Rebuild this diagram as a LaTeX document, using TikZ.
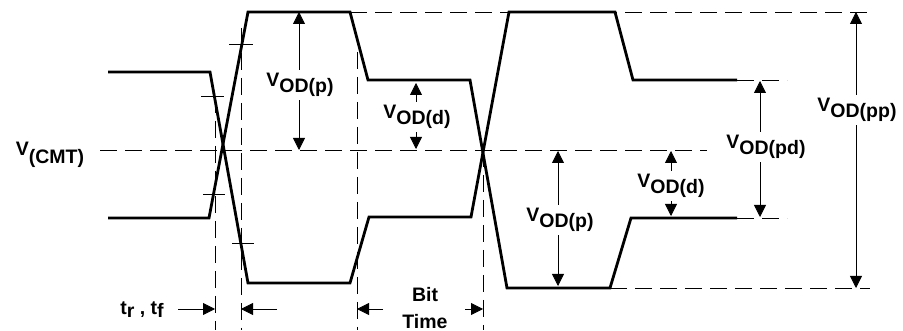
\documentclass[tikz,border=0pt]{standalone}
\usepackage{fontspec}
\setmainfont{Liberation Sans}
\usetikzlibrary{arrows.meta}
\newcommand\VS[1]{V\raisebox{-6.5pt}{#1}}
\begin{document}
\begin{tikzpicture}[x=1pt,y=-1pt,
  sig/.style={line width=2.8pt, line join=miter},
  dsh/.style={line width=0.8pt, dash pattern=on 17pt off 8pt},
  tick/.style={line width=0.8pt},
  dim/.style={line width=0.8pt, -{Triangle[length=12pt,width=12pt]}},
  lbl/.style={font=\fontsize{19.5}{27}\selectfont\bfseries, inner sep=3pt}]
\useasboundingbox (0,0) rectangle (903,331);

% reference levels (dashed)
\coordinate (top0) at (350,12);  \coordinate (top1) at (872,12);
\coordinate (mid0) at (100,150); \coordinate (mid1) at (707,150);
\coordinate (bot0) at (610,288); \coordinate (bot1) at (870,288);
\coordinate (hi0) at (737,80);   \coordinate (hi1) at (787,80);
\coordinate (lo0) at (737,218);  \coordinate (lo1) at (787,218);
\draw[dsh] (top0) -- (top1);
\draw[dsh] (mid0) -- (mid1);
\draw[dsh] (bot0) -- (bot1);
\draw[dsh] (hi0) -- (hi1);
\draw[dsh] (lo0) -- (lo1);

% vertical time markers (dashed)
\coordinate (va0) at (215,96);  \coordinate (va1) at (215,330);
\coordinate (vb0) at (241,28);  \coordinate (vb1) at (241,330);
\coordinate (vc0) at (357,52);  \coordinate (vc1) at (357,330);
\coordinate (vd0) at (483,150); \coordinate (vd1) at (483,330);
\draw[dsh] (va0) -- (va1);
\draw[dsh] (vb0) -- (vb1);
\draw[dsh] (vc0) -- (vc1);
\draw[dsh] (vd0) -- (vd1);

% ticks on the edges
\draw[tick] (201,96) -- (224,96);
\draw[tick] (229,44) -- (253,44);
\draw[tick] (203,194) -- (225,194);
\draw[tick] (232,243) -- (254,243);

% waveforms
\draw[sig] (108,72) -- (210,72) -- (248,283) -- (350,283) -- (369,217) -- (471,217)
  -- (509,12) -- (615,12) -- (633,80) -- (737,80);
\draw[sig] (108,218) -- (209,218) -- (248,12) -- (350,12) -- (368,80) -- (470,80)
  -- (507,288) -- (610,288) -- (631,218) -- (737,218);

% VOD(p) left
\node[lbl] (odpA) at (300,85) {\VS{OD(p)}};
\coordinate (odpAt) at (299,12); \coordinate (odpAb) at (299,150);
\draw[dim] (odpAt |- odpA.north) -- (odpAt);
\draw[dim] (odpAb |- odpA.south) -- (odpAb);

% VOD(d) left
\node[lbl] (oddA) at (417,117) {\VS{OD(d)}};
\coordinate (oddAt) at (416,83); \coordinate (oddAb) at (416,149);
\draw[dim] (oddAt |- oddA.north) -- (oddAt);
\draw[dim] (oddAb |- oddA.south) -- (oddAb);

% VOD(p) right
\node[lbl] (odpB) at (560,220) {\VS{OD(p)}};
\coordinate (odpBt) at (558,151); \coordinate (odpBb) at (558,286);
\draw[dim] (odpBt |- odpB.north) -- (odpBt);
\draw[dim] (odpBb |- odpB.south) -- (odpBb);

% VOD(d) right
\node[lbl] (oddB) at (671,186) {\VS{OD(d)}};
\coordinate (oddBt) at (671,151); \coordinate (oddBb) at (671,216);
\draw[dim] (oddBt |- oddB.north) -- (oddBt);
\draw[dim] (oddBb |- oddB.south) -- (oddBb);

% VOD(pd)
\node[lbl] (odpd) at (766,147) {\VS{OD(pd)}};
\coordinate (odpdt) at (760,81); \coordinate (odpdb) at (760,217);
\draw[dim] (odpdt |- odpd.north) -- (odpdt);
\draw[dim] (odpdb |- odpd.south) -- (odpdb);

% VOD(pp)
\node[lbl] (odpp) at (857,110) {\VS{OD(pp)}};
\coordinate (odppt) at (856,12); \coordinate (odppb) at (856,288);
\draw[dim] (odppt |- odpp.north) -- (odppt);
\draw[dim] (odppb |- odpp.south) -- (odppb);

% V(CMT)
\node[lbl] (cmt) at (50,155) {V\raisebox{-8pt}{(CMT)}};

% timing labels
\node[lbl] (trtf) at (142,310) {t\raisebox{-3pt}{r} , t\raisebox{-3pt}{f}};
\coordinate (a1s) at (178,309); \coordinate (a1e) at (215,309);
\coordinate (a2s) at (277,309); \coordinate (a2e) at (241,309);
\coordinate (a3s) at (383,309); \coordinate (a3e) at (357,309);
\coordinate (a4s) at (465,309); \coordinate (a4e) at (483,309);
\draw[dim] (a1s) -- (a1e);
\draw[dim] (a2s) -- (a2e);
\draw[dim] (a3s) -- (a3e);
\draw[dim] (a4s) -- (a4e);
\node[lbl, align=center] (bit) at (425,308) {Bit\\Time};
\end{tikzpicture}
\end{document}
